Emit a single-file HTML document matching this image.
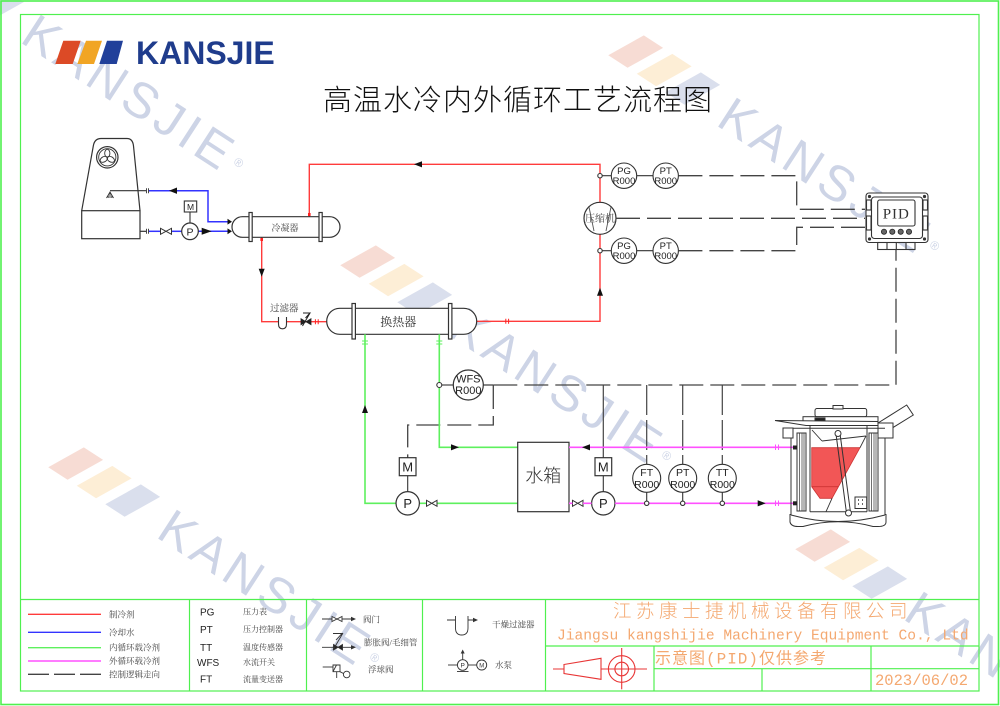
<!DOCTYPE html>
<html><head><meta charset="utf-8"><title>高温水冷内外循环工艺流程图</title>
<style>
html,body{margin:0;padding:0;background:#fff;width:1000px;height:706px;overflow:hidden}
svg{display:block}
.sf{font-family:"Liberation Serif","Noto Serif CJK SC",serif}
.ss{font-family:"Liberation Sans","Noto Sans CJK SC",sans-serif}
.wm{font-family:"Liberation Sans",sans-serif;font-size:50px;letter-spacing:5px;fill:#cdd4e6}
</style></head><body>
<svg width="1000" height="706" viewBox="0 0 1000 706" xmlns="http://www.w3.org/2000/svg" overflow="hidden">
<rect width="1000" height="706" fill="#fff"/>

<!-- watermarks -->
<g transform="translate(42,35) rotate(33)">
<polygon points="-75,18 -52,18 -33,-18 -56,-18" fill="#dadfed"/>
<text class="wm" x="-16" y="18">KANSJIE</text>
<text class="ss" x="230" y="4" font-size="12" fill="#cdd4e6">®</text>
</g>
<g transform="translate(738,118) rotate(33)">
<polygon points="-143,18 -120,18 -101,-18 -124,-18" fill="#f7dcd4"/>
<polygon points="-109,18 -86,18 -67,-18 -90,-18" fill="#fdeed6"/>
<polygon points="-75,18 -52,18 -33,-18 -56,-18" fill="#dadfed"/>
<text class="wm" x="-16" y="18">KANSJIE</text>
<text class="ss" x="230" y="4" font-size="12" fill="#cdd4e6">®</text>
</g>
<g transform="translate(470,328) rotate(33)">
<polygon points="-143,18 -120,18 -101,-18 -124,-18" fill="#f7dcd4"/>
<polygon points="-109,18 -86,18 -67,-18 -90,-18" fill="#fdeed6"/>
<polygon points="-75,18 -52,18 -33,-18 -56,-18" fill="#dadfed"/>
<text class="wm" x="-16" y="18">KANSJIE</text>
<text class="ss" x="230" y="4" font-size="12" fill="#cdd4e6">®</text>
</g>
<g transform="translate(178,530) rotate(33)">
<polygon points="-143,18 -120,18 -101,-18 -124,-18" fill="#f7dcd4"/>
<polygon points="-109,18 -86,18 -67,-18 -90,-18" fill="#fdeed6"/>
<polygon points="-75,18 -52,18 -33,-18 -56,-18" fill="#dadfed"/>
<text class="wm" x="-16" y="18">KANSJIE</text>
<text class="ss" x="230" y="4" font-size="12" fill="#cdd4e6">®</text>
</g>
<g transform="translate(925,612) rotate(33)">
<polygon points="-143,18 -120,18 -101,-18 -124,-18" fill="#f7dcd4"/>
<polygon points="-109,18 -86,18 -67,-18 -90,-18" fill="#fdeed6"/>
<polygon points="-75,18 -52,18 -33,-18 -56,-18" fill="#dadfed"/>
<text class="wm" x="-16" y="18">KAN</text>
</g>

<!-- frames -->
<rect x="1" y="1" width="997.5" height="703.5" fill="none" stroke="#4ff04f" stroke-width="1.6"/>
<rect x="20.5" y="14.5" width="958.5" height="676.5" fill="none" stroke="#4ff04f" stroke-width="1.2"/>
<g stroke="#4ff04f" stroke-width="1.2">
<line x1="20.5" y1="599.5" x2="979" y2="599.5"/>
<line x1="189.5" y1="599.5" x2="189.5" y2="691"/>
<line x1="306.5" y1="599.5" x2="306.5" y2="691"/>
<line x1="422.5" y1="599.5" x2="422.5" y2="691"/>
<line x1="545.5" y1="599.5" x2="545.5" y2="691"/>
<line x1="545.5" y1="646" x2="979" y2="646"/>
<line x1="654" y1="668.7" x2="979" y2="668.7"/>
<line x1="654" y1="646" x2="654" y2="691"/>
<line x1="762" y1="668.7" x2="762" y2="691"/>
<line x1="871" y1="646" x2="871" y2="691"/>
</g>

<!-- logo -->
<polygon points="63.3,40.7 80.7,40.7 72.7,64 55.3,64" fill="#dc4a26"/>
<polygon points="86,40.7 102,40.7 94,64 77.3,64" fill="#f1a524"/>
<polygon points="107,40.7 123,40.7 116.7,64 99.3,64" fill="#21409a"/>
<text x="136" y="64" font-family="Liberation Sans, sans-serif" font-weight="bold" font-size="32" fill="#1f3c8c">KANSJIE</text>

<!-- title -->
<text x="323" y="110" font-family="Noto Sans CJK SC, sans-serif" font-weight="300" font-size="29" letter-spacing="1" fill="#111">高温水冷内外循环工艺流程图</text>

<!-- cooling tower -->
<g fill="none" stroke="#333" stroke-width="1.2">
<path d="M81.7,210.7 L93.3,146 Q94.5,138.5 101,138.5 L127,138.5 Q132.7,138.5 133.5,146 L140,210.7"/>
<rect x="81.7" y="210.7" width="58.3" height="28"/>
<circle cx="107.3" cy="157.3" r="10.7"/>
<circle cx="107.3" cy="157.3" r="8.6" stroke-width="0.9"/>
<g transform="translate(107.3,157.3)" stroke-width="0.9">
<ellipse cx="0" cy="-4" rx="2.6" ry="4"/>
<ellipse cx="0" cy="-4" rx="2.6" ry="4" transform="rotate(120)"/>
<ellipse cx="0" cy="-4" rx="2.6" ry="4" transform="rotate(240)"/>
</g>
<line x1="110" y1="190.7" x2="146" y2="190.7"/>
<path d="M106.5,198 L110,192 L113.5,198 M110,192 L110,198 M108.2,195 L108.2,198 M111.8,195 L111.8,198" stroke-width="0.9"/>
<line x1="140" y1="231.3" x2="146" y2="231.3"/>
<path d="M146.5,188.2 V193.2 M148.5,188.2 V193.2 M146.5,228.8 V233.8 M148.5,228.8 V233.8" stroke-width="0.9"/>
</g>

<!-- blue cooling water -->
<g fill="none" stroke="#3333ff" stroke-width="1.5">
<polyline points="149,190.7 208,190.7 208,221.7 229,221.7"/>
<line x1="149" y1="231.3" x2="160" y2="231.3"/>
<line x1="172" y1="231.3" x2="181.7" y2="231.3"/>
<line x1="198.3" y1="231.3" x2="229" y2="231.3"/>
</g>
<polygon points="169,190.7 177,187.5 177,193.9" fill="#111"/>
<polygon points="227.5,218.8 232,221.7 227.5,224.6" fill="#111"/>
<polygon points="201.7,227.8 211.7,231.3 201.7,234.8" fill="#111"/>
<polygon points="227.5,228.4 232,231.3 227.5,234.2" fill="#111"/>
<path d="M160.5,228.3 L171.5,234.3 L171.5,228.3 L160.5,234.3 Z" fill="#fff" stroke="#333" stroke-width="1"/>
<circle cx="190" cy="231.3" r="8.3" fill="#fff" stroke="#333" stroke-width="1.2"/>
<text class="ss" x="190" y="235.3" font-size="10.5" text-anchor="middle" fill="#222">P</text>
<rect x="184.3" y="201" width="12.4" height="11" fill="#fff" stroke="#333" stroke-width="1.1"/>
<text class="ss" x="190.5" y="209.8" font-size="8.5" text-anchor="middle" fill="#222">M</text>
<line x1="190" y1="212" x2="190" y2="223" stroke="#333" stroke-width="1.1"/>

<!-- red refrigerant loop -->
<g fill="none" stroke="#ff3b3b" stroke-width="1.4">
<polyline points="309.3,216.7 309.3,164.3 600,164.3 600,321.3 476.7,321.3"/>
<polyline points="261.7,237.3 261.7,321.7 326.7,321.7"/>
</g>
<rect x="308" y="213" width="2.6" height="3" fill="#ff2020"/>
<rect x="260.4" y="238" width="2.6" height="3" fill="#ff2020"/>
<path d="M505.8,318.8 V323.8 M508.6,318.8 V323.8 M315.4,319.2 V324.2 M318.2,319.2 V324.2" stroke="#ff2020" stroke-width="1"/>
<polygon points="414,164.3 422,161.2 422,167.4" fill="#111"/>
<polygon points="258.7,268.7 264.7,268.7 261.7,276.7" fill="#111"/>
<polygon points="597,295.7 603,295.7 600,287.7" fill="#111"/>

<!-- condenser -->
<g fill="none" stroke="#333" stroke-width="1.2">
<rect x="232" y="216.7" width="108" height="20.6" rx="10.3" fill="#fff"/>
<rect x="249" y="212.5" width="3.2" height="29" fill="#fff"/>
<rect x="319" y="212.5" width="3.2" height="29" fill="#fff"/>
</g>
<text class="sf" x="285" y="231" font-size="9" text-anchor="middle" fill="#444">冷凝器</text>

<!-- filter & expansion valve -->
<path d="M278.5,317 L278.5,324 Q278.5,328.8 282.5,328.8 Q286.5,328.8 286.5,324 L286.5,317" fill="#fff" stroke="#333" stroke-width="1.1"/>
<text class="sf" x="270" y="311.5" font-size="9.5" fill="#444">过滤器</text>
<path d="M301,318.7 L306,321.7 L301,324.7 Z M311,318.7 L306,321.7 L311,324.7 Z" fill="#222" stroke="#222" stroke-width="0.8"/>
<path d="M302.5,326 L310,313 M303,313 L310,313 L305.5,318" fill="none" stroke="#222" stroke-width="1"/>

<!-- heat exchanger -->
<g fill="none" stroke="#333" stroke-width="1.2">
<rect x="326.7" y="308.3" width="150" height="26" rx="13" fill="#fff"/>
<rect x="352" y="303.5" width="3.4" height="35.5" fill="#fff"/>
<rect x="448.5" y="303.5" width="3.4" height="35.5" fill="#fff"/>
</g>
<text class="sf" x="398.3" y="326" font-size="12" text-anchor="middle" fill="#333">换热器</text>

<!-- compressor -->
<circle cx="600" cy="218.3" r="16" fill="#fff" stroke="#333" stroke-width="1.2"/>
<path d="M589,207 L594,231 M611,207 L606,231" stroke="#555" stroke-width="0.9" fill="none"/>
<text class="sf" x="600" y="222" font-size="10" text-anchor="middle" fill="#444">压缩机</text>

<!-- PG/PT instruments -->
<g fill="none" stroke="#333" stroke-width="1.1">
<line x1="602" y1="175.7" x2="611.3" y2="175.7"/>
<line x1="636.7" y1="175.7" x2="653" y2="175.7"/>
<line x1="602" y1="250.7" x2="611.3" y2="250.7"/>
<line x1="636.7" y1="250.7" x2="653" y2="250.7"/>
<circle cx="600" cy="175.7" r="2.2" fill="#fff"/>
<circle cx="600" cy="250.7" r="2.2" fill="#fff"/>
<circle cx="624" cy="175.7" r="12.7" fill="#fff"/>
<circle cx="665.7" cy="175.7" r="12.7" fill="#fff"/>
<circle cx="624" cy="250.7" r="12.7" fill="#fff"/>
<circle cx="665.7" cy="250.7" r="12.7" fill="#fff"/>
</g>
<g class="ss" font-size="9.5" text-anchor="middle" fill="#222">
<text x="624" y="174">PG</text><text x="624" y="184">R000</text>
<text x="665.7" y="174">PT</text><text x="665.7" y="184">R000</text>
<text x="624" y="249">PG</text><text x="624" y="259">R000</text>
<text x="665.7" y="249">PT</text><text x="665.7" y="259">R000</text>
</g>

<!-- control dashed lines -->
<g fill="none" stroke="#444" stroke-width="1.3" stroke-dasharray="24 7">
<polyline points="678.4,175.7 796.7,175.7 796.7,209.3 865,209.3"/>
<polyline points="616,218.3 865,218.3"/>
<polyline points="678.4,250.7 796.7,250.7 796.7,227.3 865,227.3"/>
<polyline points="493.3,385 896,385 896,249.5"/>
<polyline points="493.3,385 493.3,425 407.7,425 407.7,457.7"/>
</g>
<line x1="483.3" y1="385" x2="493.3" y2="385" stroke="#444" stroke-width="1.3"/>
<line x1="603.3" y1="385" x2="603.3" y2="457.7" stroke="#444" stroke-width="1.2"/>
<g stroke="#444" stroke-width="1.2" stroke-dasharray="30 5">
<line x1="646.7" y1="385" x2="646.7" y2="464.3"/>
<line x1="682.7" y1="385" x2="682.7" y2="464.3"/>
<line x1="722.3" y1="385" x2="722.3" y2="464.3"/>
</g>

<!-- PID controller -->
<g fill="none" stroke="#333" stroke-width="1.1">
<rect x="866" y="193" width="62" height="49.5" rx="3" fill="#fff"/>
<rect x="871.5" y="197" width="51" height="41.5" rx="3"/>
<rect x="877.7" y="200" width="37.3" height="26" rx="2"/>
<rect x="866.5" y="200" width="4.5" height="10"/>
<rect x="866.5" y="216" width="4.5" height="14"/>
<rect x="923" y="200" width="4.5" height="10"/>
<rect x="923" y="216" width="4.5" height="14"/>
<rect x="877.7" y="242.5" width="37.3" height="7"/>
<path d="M887,242.5 V249.5 M896.3,242.5 V249.5 M906,242.5 V249.5"/>
</g>
<g fill="#333">
<circle cx="869.5" cy="196.5" r="1.6"/><circle cx="924.5" cy="196.5" r="1.6"/>
<circle cx="869.5" cy="239" r="1.6"/><circle cx="924.5" cy="239" r="1.6"/>
</g>
<g fill="#666" stroke="#222" stroke-width="0.8">
<circle cx="884" cy="231.7" r="2.6"/><circle cx="892.3" cy="231.7" r="2.6"/>
<circle cx="900.7" cy="231.7" r="2.6"/><circle cx="909" cy="231.7" r="2.6"/>
</g>
<text x="896.3" y="218.5" font-family="Liberation Serif, serif" font-size="15" letter-spacing="1" text-anchor="middle" fill="#333">PID</text>

<!-- green inner loop -->
<g fill="none" stroke="#5ef05e" stroke-width="1.6">
<polyline points="365,334.3 365,503.3 396,503.3"/>
<line x1="419.4" y1="503.3" x2="426" y2="503.3"/>
<line x1="437.3" y1="503.3" x2="517.7" y2="503.3"/>
<polyline points="439.3,334.3 439.3,447.3 517.7,447.3"/>
<path d="M362,341 H368 M362,344 H368 M436.3,341 H442.3 M436.3,344 H442.3" stroke-width="1"/>
</g>
<polygon points="362,413 368,413 365,405" fill="#111"/>
<polygon points="451,444.2 459,447.3 451,450.4" fill="#111"/>

<!-- WFS -->
<line x1="441.8" y1="385" x2="453.3" y2="385" stroke="#333" stroke-width="1.1"/>
<circle cx="439.3" cy="385" r="2.5" fill="#fff" stroke="#333" stroke-width="1.1"/>
<circle cx="468.3" cy="385" r="15" fill="#fff" stroke="#333" stroke-width="1.2"/>
<text class="ss" x="468.3" y="382.5" font-size="11" text-anchor="middle" fill="#222">WFS</text>
<text class="ss" x="468.3" y="394" font-size="11" text-anchor="middle" fill="#222">R000</text>

<!-- pumps & motors -->
<g fill="#fff" stroke="#333" stroke-width="1.2">
<circle cx="407.7" cy="503.3" r="11.7"/>
<rect x="399.3" y="457.7" width="16.7" height="18"/>
<circle cx="603.3" cy="503.3" r="11.7"/>
<rect x="595" y="457.7" width="16.7" height="18"/>
</g>
<line x1="407.7" y1="475.7" x2="407.7" y2="491.6" stroke="#333" stroke-width="1.1"/>
<line x1="603.3" y1="475.7" x2="603.3" y2="491.6" stroke="#333" stroke-width="1.1"/>
<g class="ss" font-size="13" text-anchor="middle" fill="#222">
<text x="407.7" y="508">P</text><text x="407.7" y="471.5">M</text>
<text x="603.3" y="508">P</text><text x="603.3" y="471.5">M</text>
</g>
<path d="M426.5,500.3 L437,506.3 L437,500.3 L426.5,506.3 Z" fill="#fff" stroke="#333" stroke-width="1"/>
<path d="M572.5,500.3 L583,506.3 L583,500.3 L572.5,506.3 Z" fill="#fff" stroke="#333" stroke-width="1"/>

<!-- tank -->
<rect x="517.7" y="442.3" width="51.3" height="69.4" fill="#fff" stroke="#333" stroke-width="1.2"/>
<text x="543.3" y="482" font-family="Noto Sans CJK SC, sans-serif" font-weight="300" font-size="18" text-anchor="middle" fill="#333">水箱</text>

<!-- magenta outer loop -->
<g fill="none" stroke="#ff50ff" stroke-width="1.6">
<line x1="569" y1="447.3" x2="793" y2="447.3"/>
<line x1="569" y1="503.3" x2="572.5" y2="503.3"/>
<line x1="583" y1="503.3" x2="591.6" y2="503.3"/>
<line x1="615" y1="503.3" x2="793" y2="503.3"/>
<path d="M775.5,444.5 V450 M778.5,444.5 V450 M775.5,500.5 V506 M778.5,500.5 V506" stroke-width="1"/>
</g>
<polygon points="582,447.3 590,444.2 590,450.4" fill="#111"/>
<polygon points="757.7,500.2 765.7,503.3 757.7,506.4" fill="#111"/>

<!-- FT PT TT -->
<g fill="#fff" stroke="#333" stroke-width="1.1">
<line x1="646.7" y1="492.3" x2="646.7" y2="501"/>
<line x1="682.7" y1="492.3" x2="682.7" y2="501"/>
<line x1="722.3" y1="492.3" x2="722.3" y2="501"/>
<circle cx="646.7" cy="478.3" r="14"/>
<circle cx="682.7" cy="478.3" r="14"/>
<circle cx="722.3" cy="478.3" r="14"/>
<circle cx="646.7" cy="503.3" r="2.2"/>
<circle cx="682.7" cy="503.3" r="2.2"/>
<circle cx="722.3" cy="503.3" r="2.2"/>
</g>
<g class="ss" font-size="10.5" text-anchor="middle" fill="#222">
<text x="646.7" y="476">FT</text><text x="646.7" y="488">R000</text>
<text x="682.7" y="476">PT</text><text x="682.7" y="488">R000</text>
<text x="722.3" y="476">TT</text><text x="722.3" y="488">R000</text>
</g>

<!-- furnace -->
<g fill="none" stroke="#333" stroke-width="1">
<rect x="815" y="408.5" width="51.7" height="8.2" rx="2" fill="#fff"/>
<rect x="833" y="405.5" width="10" height="3.5" fill="#fff"/>
<rect x="803" y="416.7" width="75" height="6.6" fill="#fff"/>
<rect x="815" y="418" width="10" height="3" fill="#222"/>
<polygon points="775,420.5 878,421.5 878,425.5 806,425.5" fill="#fff"/>
<polygon points="878,423 906.7,405 913.3,415 889,430" fill="#fff"/>
<rect x="878" y="423" width="15" height="15" fill="#fff"/>
<line x1="791" y1="428.3" x2="885" y2="428.3"/>
<rect x="783" y="428" width="10" height="10" fill="#fff"/>
<line x1="791" y1="438" x2="791" y2="515"/>
<line x1="885" y1="438" x2="885" y2="515"/>
<rect x="797" y="433" width="9" height="78"/>
<path d="M799.5,433 V511 M802,433 V511 M804,433 V511 M871.5,433 V511 M874,433 V511 M876,433 V511" stroke-width="0.7"/>
<rect x="869" y="433" width="9" height="78"/>
<line x1="810" y1="426" x2="810" y2="511.7"/>
<line x1="867" y1="426" x2="867" y2="511.7"/>
<line x1="810" y1="511.7" x2="867" y2="511.7"/>
<polygon points="811.7,447.7 860,447.7 832,498.3 820,498.3 811.7,486.7" fill="#f25656" stroke="#c33" stroke-width="0.8"/>
<line x1="811.7" y1="486.7" x2="838" y2="486.7" stroke="#c33" stroke-width="0.8"/>
<path d="M866,436 L860,447.7 M832,498.3 L826,511.7 M812,430 L822,441 M822,441 L866,436" stroke-width="0.9"/>
<path d="M836,434 L846.5,513 M840,433.5 L850.5,512.5" stroke-width="1"/>
<circle cx="838" cy="433.5" r="3" fill="#fff"/>
<circle cx="848.5" cy="513" r="3" fill="#fff"/>
<rect x="855" y="497" width="11.7" height="11.5" fill="#fff"/>
<path d="M858,500 h1 M862,500 h1 M858,504 h1 M862,504 h1" stroke-width="1.6"/>
<path d="M790,514 L790,522 Q791,526.5 798,526.5 L803,526.5 Q838,517 873,526.5 L878,526.5 Q886,526.5 886,522 L886,514" />
<path d="M791,515 Q838,528 885,515"/>
</g>
<rect x="793" y="445.5" width="4" height="4" fill="#222"/>
<rect x="793" y="501.3" width="4" height="4" fill="#222"/>

<!-- legend col 1 -->
<line x1="28" y1="614.3" x2="101" y2="614.3" stroke="#ff3b3b" stroke-width="1.3"/>
<line x1="28" y1="632.3" x2="101" y2="632.3" stroke="#3333ff" stroke-width="1.3"/>
<line x1="28" y1="647.7" x2="101" y2="647.7" stroke="#5ef05e" stroke-width="1.4"/>
<line x1="28" y1="661" x2="101" y2="661" stroke="#ff50ff" stroke-width="1.4"/>
<line x1="28" y1="674.3" x2="101" y2="674.3" stroke="#444" stroke-width="1.3" stroke-dasharray="21 5"/>
<g class="sf" font-size="8.5" fill="#444">
<text x="109" y="617.3">制冷剂</text>
<text x="109" y="635.3">冷却水</text>
<text x="109" y="650.7">内循环载冷剂</text>
<text x="109" y="664">外循环载冷剂</text>
<text x="109" y="677.3">控制逻辑走向</text>
</g>
<!-- legend col 2 -->
<g class="ss" font-size="10" fill="#222">
<text x="200" y="615.3">PG</text>
<text x="200" y="633">PT</text>
<text x="200" y="651">TT</text>
<text x="197" y="666">WFS</text>
<text x="200" y="682.7">FT</text>
</g>
<g class="sf" font-size="8" fill="#444">
<text x="243" y="614.5">压力表</text>
<text x="243" y="632.2">压力控制器</text>
<text x="243" y="650.2">温度传感器</text>
<text x="243" y="665.2">水流开关</text>
<text x="243" y="682">流量变送器</text>
</g>
<!-- legend col 3 -->
<g fill="none" stroke="#333" stroke-width="0.9">
<line x1="322" y1="619" x2="352" y2="619"/>
<path d="M332,616.5 L342,621.5 L342,616.5 L332,621.5 Z" fill="#fff"/>
<line x1="322" y1="647.3" x2="352" y2="647.3"/>
<path d="M333.5,644.5 L338,647.3 L333.5,650 Z M342.5,644.5 L338,647.3 L342.5,650 Z" fill="#222"/>
<path d="M333,650 L343,633 M333,633.5 L342,633.5 L336,640"/>
<line x1="322.7" y1="667" x2="333" y2="667"/>
<path d="M333,665 L340,665 L340,671.7 L333,671.7 Z M333,671.7 L336.5,665"/>
<line x1="336.7" y1="671.7" x2="336.7" y2="678"/>
<line x1="340" y1="671.7" x2="343.5" y2="673.5"/>
<circle cx="346.7" cy="674.5" r="3.3" fill="#fff"/>
</g>
<polygon points="351,616.8 356,619 351,621.2" fill="#333"/>
<polygon points="351,645.1 356,647.3 351,649.5" fill="#333"/>
<g class="sf" font-size="8.5" fill="#444">
<text x="363" y="622.5">阀门</text>
<text x="364" y="645.5">膨胀阀/毛细管</text>
<text x="368" y="672.5">浮球阀</text>
</g>
<!-- legend col 4 -->
<g fill="none" stroke="#333" stroke-width="0.9">
<line x1="447" y1="620" x2="474" y2="620"/>
<path d="M455.5,616 L455.5,628 Q455.5,635 461.7,635 Q468,635 468,628 L468,616" fill="#fff"/>
<line x1="448" y1="665" x2="457.4" y2="665"/>
<circle cx="462.7" cy="665" r="5.3" fill="#fff"/>
<line x1="457" y1="671.5" x2="468.5" y2="671.5"/>
<line x1="468" y1="665" x2="476.7" y2="665"/>
<circle cx="481.7" cy="665" r="5" fill="#fff"/>
<line x1="462.7" y1="652" x2="462.7" y2="659.7"/>
</g>
<polygon points="473,617.8 478,620 473,622.2" fill="#333"/>
<polygon points="460.7,653.5 464.7,653.5 462.7,649.5" fill="#333"/>
<text class="ss" x="462.7" y="667.3" font-size="6.5" text-anchor="middle" fill="#333">P</text>
<text class="ss" x="481.7" y="667.3" font-size="6" text-anchor="middle" fill="#333">M</text>
<g class="sf" font-size="8.5" fill="#444">
<text x="492" y="627.5">干燥过滤器</text>
<text x="495" y="668">水泵</text>
</g>

<!-- title block -->
<text x="613" y="617.5" font-family="Noto Sans CJK SC, sans-serif" font-weight="300" font-size="18.5" letter-spacing="4.5" fill="#f4a870">江苏康士捷机械设备有限公司</text>
<text x="557" y="639.5" font-family="Liberation Mono, monospace" font-size="14.6" fill="#f4a870">Jiangsu kangshijie Machinery Equipment Co., Ltd</text>
<text x="655" y="663.5" font-family="Liberation Mono, Noto Sans CJK SC, monospace" font-size="16" letter-spacing="1" fill="#f4a870">示意图(PID)仅供参考</text>
<text x="875" y="685" font-family="Liberation Mono, monospace" font-size="15.5" fill="#f4a870">2023/06/02</text>
<g fill="none" stroke="#e83535" stroke-width="1.1">
<line x1="553" y1="669" x2="647" y2="669"/>
<polygon points="564,664.5 601,658.3 601,679.3 564,673.5" fill="#fff"/>
<circle cx="621.7" cy="669" r="13.3"/>
<circle cx="621.7" cy="669" r="6.8"/>
<line x1="621.7" y1="648" x2="621.7" y2="689.3"/>
<line x1="605" y1="669" x2="640" y2="669"/>
</g>
</svg>
</body></html>
